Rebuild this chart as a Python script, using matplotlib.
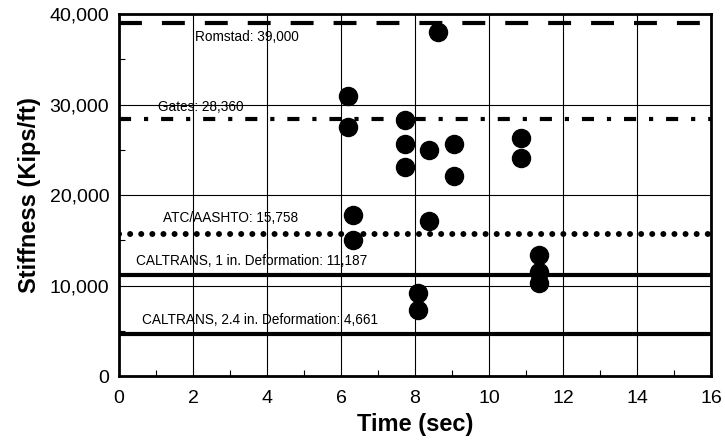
import matplotlib
matplotlib.use("Agg")
import matplotlib.pyplot as plt
from matplotlib.ticker import MultipleLocator, FuncFormatter

plt.rcParams["font.family"] = ["Liberation Sans", "DejaVu Sans"]

# measured stiffness points
time_sec = [6.19, 6.19, 6.32, 6.32, 7.73, 7.73, 7.73, 8.38, 8.38, 8.62,
            9.05, 9.05, 8.08, 8.08, 10.86, 10.86, 11.35, 11.35, 11.35]
stiffness = [31000, 27500, 17800, 15000, 28300, 25600, 23100, 25000, 17100, 38000,
             25700, 22100, 9200, 7300, 26300, 24100, 13400, 11500, 10300]

# reference stiffness values
ref_names = ["Romstad: 39,000", "Gates: 28,360", "ATC/AASHTO: 15,758",
             "CALTRANS, 1 in. Deformation: 11,187", "CALTRANS, 2.4 in. Deformation: 4,661"]
ref_values = [39000, 28360, 15758, 11187, 4661]
label_x = [2.05, 1.05, 1.19, 0.46, 0.62]
label_y = [37450, 29700, 17450, 12700, 6200]

fig = plt.figure(figsize=(7.25, 4.42), dpi=100)
ax = fig.add_axes([0.164, 0.149, 0.817, 0.819])

styles = [
    dict(linestyle=(0, (5.5, 4.8)), linewidth=3),
    dict(linestyle=(0, (2.9, 3.1, 1.0, 3.1)), linewidth=3),
    dict(linestyle=(0, (0.01, 1.85)), linewidth=4.3, dash_capstyle="round"),
    dict(linestyle="-", linewidth=3),
    dict(linestyle="-", linewidth=3),
]
for val, st in zip(ref_values, styles):
    ax.axhline(val, color="black", zorder=2, **st)

for name, lx, ly in zip(ref_names, label_x, label_y):
    ax.text(lx, ly, name, fontsize=9.8, va="center", ha="left", zorder=4)

ax.plot(time_sec, stiffness, "o", color="black", markersize=13, zorder=3)

ax.set_xlim(0, 16)
ax.set_ylim(0, 40000)
ax.xaxis.set_major_locator(MultipleLocator(2))
ax.xaxis.set_minor_locator(MultipleLocator(1))
ax.yaxis.set_major_locator(MultipleLocator(10000))
ax.yaxis.set_minor_locator(MultipleLocator(5000))
ax.yaxis.set_major_formatter(FuncFormatter(lambda v, p: f"{int(v):,}"))
ax.grid(True, which="major", color="black", linewidth=0.8)
ax.tick_params(which="major", length=0, labelsize=14)
ax.tick_params(axis="x", which="major", pad=10)
ax.tick_params(axis="y", which="major", pad=7)
ax.tick_params(which="minor", direction="in", length=4, width=0.8)
for s in ax.spines.values():
    s.set_linewidth(2)

ax.set_xlabel("Time (sec)", fontsize=17, fontweight="bold", labelpad=4)
ax.set_ylabel("Stiffness (Kips/ft)", fontsize=17, fontweight="bold", labelpad=6)

fig.savefig("out.png", dpi=100)
